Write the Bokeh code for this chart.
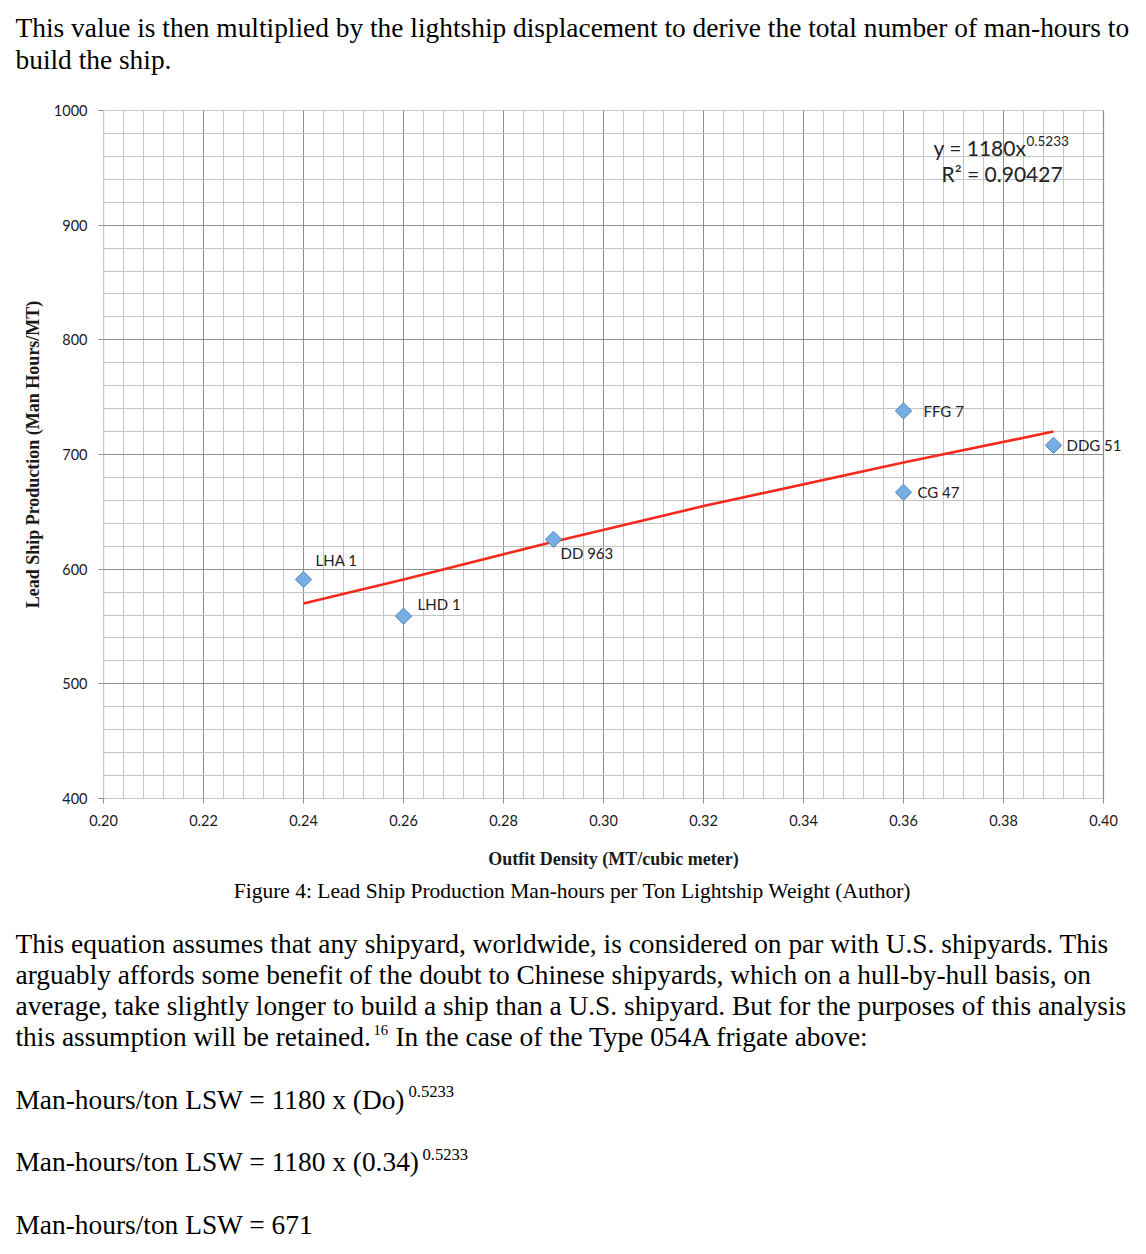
from bokeh.plotting import figure
from bokeh.models import (Range1d, SingleIntervalTicker, NumeralTickFormatter,
                          Label, LabelSet, ColumnDataSource)
from bokeh.core.properties import value
from bokeh.embed import file_html
from bokeh.resources import INLINE

# ---------------- data ----------------
ship_names = ["LHA 1", "LHD 1", "DD 963", "FFG 7", "CG 47", "DDG 51"]
outfit_density = [0.24, 0.26, 0.29, 0.36, 0.36, 0.39]
man_hours = [591, 559, 626, 738, 667, 708]

# power trend line
trend_x = [0.24, 0.26, 0.29, 0.32, 0.36, 0.39]
trend_y = [570, 591, 624, 655, 693, 720]

x_ticks = [0.20, 0.22, 0.24, 0.26, 0.28, 0.30, 0.32, 0.34, 0.36, 0.38, 0.40]
y_ticks = [400, 500, 600, 700, 800, 900, 1000]

# label offsets (layout only)
label_dx = [12, 14, 7, 20, 14, 13]
label_dy = [19, 12, -14, 0, 0, 0]

PAGE_W = 1146
TOP_H = 80          # page rows 0..80
MAIN_BOTTOM = 878   # page row where main chart block ends
PAGE_H = 1254
FRAME_W = 1020

# ---------------- main chart ----------------
x_pad = (FRAME_W - 1000) * 0.20 / 1000.0   # room right of 0.40 for the "DDG 51" label
p = figure(frame_width=FRAME_W, frame_height=688,
           min_border_left=103, min_border_right=PAGE_W - 103 - FRAME_W,
           min_border_top=110 - TOP_H, min_border_bottom=MAIN_BOTTOM - 798,
           x_range=Range1d(x_ticks[0], x_ticks[-1] + x_pad),
           y_range=Range1d(y_ticks[0], y_ticks[-1]),
           output_backend="svg", toolbar_location=None)
p.background_fill_color = "white"
p.border_fill_color = "white"
p.outline_line_color = None

xt = SingleIntervalTicker(interval=0.02, num_minor_ticks=5)
yt = SingleIntervalTicker(interval=100, num_minor_ticks=5)
p.xaxis.ticker = xt
p.yaxis.ticker = yt
p.xgrid.ticker = xt
p.ygrid.ticker = yt
for g in (p.xgrid, p.ygrid):
    g.grid_line_color = "#8e8e8e"
    g.grid_line_width = 1
    g.minor_grid_line_color = "#c4c4c4"
    g.minor_grid_line_width = 1

p.xaxis.formatter = NumeralTickFormatter(format="0.00")
for ax in (p.xaxis, p.yaxis):
    ax.axis_line_color = None
    ax.major_tick_line_color = "#8e8e8e"
    ax.major_tick_out = 5
    ax.major_tick_in = 0
    ax.minor_tick_line_color = None
    ax.major_label_text_font = "Lato"
    ax.major_label_text_font_size = "14.5px"
    ax.major_label_text_color = "#1a1a1a"
    ax.axis_label_text_font = "Liberation Serif"
    ax.axis_label_text_font_style = "bold"
    ax.axis_label_text_font_size = "18px"
    ax.axis_label_text_color = "#1a1a1a"

p.xaxis.axis_label = "Outfit Density (MT/cubic meter)"
p.yaxis.axis_label = "Lead Ship Production (Man Hours/MT)"
p.xaxis.major_label_standoff = 11
p.yaxis.major_label_standoff = 11
p.xaxis.axis_label_standoff = 20
p.yaxis.axis_label_standoff = 8

# blank the strip right of 0.40 and draw the plot-area border
p.quad(left=[x_ticks[-1]], right=[x_ticks[-1] + 3 * x_pad],
       bottom=[y_ticks[0] - 50], top=[y_ticks[-1] + 50],
       fill_color="white", line_color=None)
p.quad(left=[x_ticks[0]], right=[x_ticks[-1]],
       bottom=[y_ticks[0]], top=[y_ticks[-1]],
       fill_color=None, line_color="#8e8e8e", line_width=1.2)

# trend line
p.line(trend_x, trend_y, line_color="#f42a1e", line_width=2.6)

# points
src = ColumnDataSource(dict(x=outfit_density, y=man_hours, name=ship_names,
                            dx=label_dx, dy=label_dy))
p.scatter("x", "y", source=src, marker="square", size=11.5, angle=0.785398,
          fill_color="#78aee3", line_color="#4f86c6", line_width=1)
p.add_layout(LabelSet(x="x", y="y", text="name", source=src,
                      x_offset="dx", y_offset="dy",
                      text_font=value("Lato"), text_font_size="15px",
                      text_color="#222222", text_baseline="middle",
                      text_align="left"))


def X(px):
    return x_ticks[0] + (px - 103) * 0.20 / 1000.0


def Y(py):
    return y_ticks[0] + (798 - py) * 600.0 / 688.0


def eq_lab(px, py, text, size):
    p.add_layout(Label(x=X(px), y=Y(py), text=text, text_font="Lato",
                       text_font_size=f"{size}px", text_align="left",
                       text_baseline="middle", text_color="#222222"))


eq_lab(933, 147, "y = 1180x", 21)
eq_lab(1026, 140, "0.5233", 13.5)
eq_lab(941, 173, "R² = 0.90427", 21)


# ---------------- text blocks (coordinates = page pixels) ----------------
def text_fig(y0, y1):
    f = figure(width=PAGE_W, height=y1 - y0,
               x_range=Range1d(0, PAGE_W), y_range=Range1d(y1, y0),
               min_border=0, x_axis_location=None, y_axis_location=None,
               output_backend="svg", toolbar_location=None)
    f.xgrid.visible = False
    f.ygrid.visible = False
    f.outline_line_color = None
    f.background_fill_color = "white"
    f.border_fill_color = "white"
    return f


def lab(f, px, py, text, size, align="left"):
    f.add_layout(Label(x=px, y=py, text=text,
                       text_font="Liberation Serif", text_font_size=f"{size}px",
                       text_align=align, text_baseline="middle",
                       text_color="black"))


BODY = 27.4
top = text_fig(0, TOP_H)
lab(top, 15, 27, "This value is then multiplied by the lightship displacement to derive the total number of man-hours to", BODY)
lab(top, 15, 59, "build the ship.", BODY)

bot = text_fig(MAIN_BOTTOM, PAGE_H)
lab(bot, 572, 890, "Figure 4: Lead Ship Production Man-hours per Ton Lightship Weight (Author)", 21.5, align="center")
lab(bot, 15, 943, "This equation assumes that any shipyard, worldwide, is considered on par with U.S. shipyards. This", BODY)
lab(bot, 15, 974, "arguably affords some benefit of the doubt to Chinese shipyards, which on a hull-by-hull basis, on", BODY)
lab(bot, 15, 1005, "average, take slightly longer to build a ship than a U.S. shipyard. But for the purposes of this analysis", BODY)
lab(bot, 15, 1036, "this assumption will be retained.", BODY)
lab(bot, 373, 1029, "16", 14.5)
lab(bot, 395, 1036, "In the case of the Type 054A frigate above:", BODY)
lab(bot, 15, 1099, "Man-hours/ton LSW = 1180 x (Do)", BODY)
lab(bot, 408, 1091, "0.5233", 16.6)
lab(bot, 15, 1161, "Man-hours/ton LSW = 1180 x (0.34)", BODY)
lab(bot, 422, 1154, "0.5233", 16.6)
lab(bot, 15, 1224, "Man-hours/ton LSW = 671", BODY)

open("out.html", "w").write(file_html([top, p, bot], INLINE))
